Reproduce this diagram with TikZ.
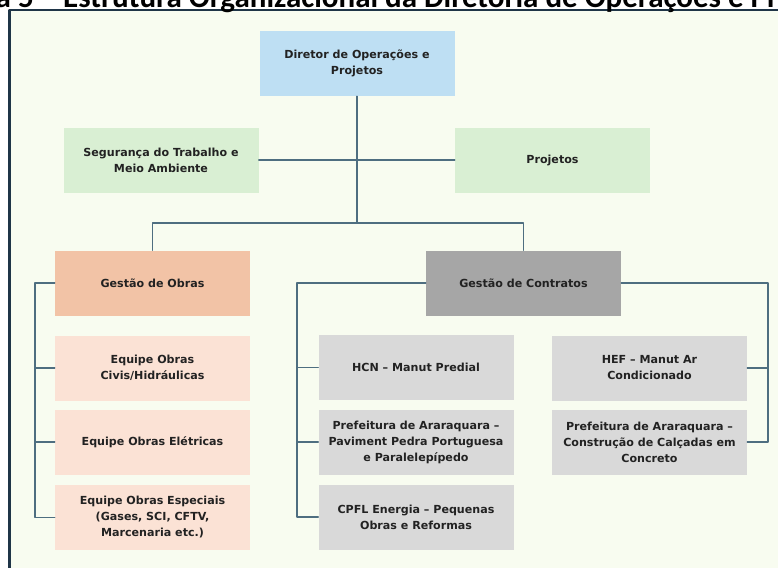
\documentclass[tikz,border=0pt]{standalone}
\usepackage{fontspec}
\setmainfont{DejaVu Sans}
\newfontfamily\titulofonte{Carlito}
\definecolor{fundo}{HTML}{F8FCF0}
\definecolor{moldura}{HTML}{1F3547}
\definecolor{linha}{HTML}{4E6E80}
\definecolor{azul}{HTML}{BEDFF3}
\definecolor{verde}{HTML}{D9EFD3}
\definecolor{salmao}{HTML}{F2C3A6}
\definecolor{salmaoclaro}{HTML}{FBE2D5}
\definecolor{cinza}{HTML}{A6A6A6}
\definecolor{cinzaclaro}{HTML}{D9D9D9}
\definecolor{texto}{HTML}{222222}

\begin{document}
\begin{tikzpicture}[line cap=round,line join=round,x=1pt,y=-1pt,
  caixa/.style={minimum width=195pt,minimum height=65pt,inner sep=2pt,align=center,text=texto,font=\fontsize{11.1}{16}\selectfont\bfseries},
  liga/.style={draw=linha,line width=1.2pt}]
			\useasboundingbox (0,0) rectangle (778,567);
			\clip (0,0) rectangle (778,567);
			\draw [fill=fundo,draw=moldura,line width=2.5pt] (9.5,10.)-- (800.,10.)-- (800.,600.)-- (9.5,600.)-- cycle;
			\node[anchor=base west,inner sep=0pt,font=\titulofonte\fontsize{31}{31}\selectfont\bfseries] (titulo) at (-68.,7.5) {Figura 5 – Estrutura Organizacional da Diretoria de Operações e Projetos};
			\node[caixa,fill=azul] (diretor) at (357.,63.5) {Diretor de Operações e\\Projetos};
			\node[caixa,fill=verde] (seguranca) at (161.,160.) {Segurança do Trabalho e\\Meio Ambiente};
			\node[caixa,fill=verde] (projetos) at (552.5,160.) {Projetos};
			\node[caixa,fill=salmao] (obras) at (152.5,283.) {Gestão de Obras};
			\node[caixa,fill=cinza] (contratos) at (523.5,283.) {Gestão de Contratos};
			\node[caixa,fill=salmaoclaro] (civis) at (152.5,368.) {Equipe Obras\\Civis/Hidráulicas};
			\node[caixa,fill=salmaoclaro] (eletricas) at (152.5,442.) {Equipe Obras Elétricas};
			\node[caixa,fill=salmaoclaro] (especiais) at (152.5,517.5) {Equipe Obras Especiais\\(Gases, SCI, CFTV,\\Marcenaria etc.)};
			\node[caixa,fill=cinzaclaro] (hcn) at (416.,367.5) {HCN – Manut Predial};
			\node[caixa,fill=cinzaclaro] (pavimento) at (416.,442.) {Prefeitura de Araraquara –\\Paviment Pedra Portuguesa\\e Paralelepípedo};
			\node[caixa,fill=cinzaclaro] (cpfl) at (416.,517.) {CPFL Energia – Pequenas\\Obras e Reformas};
			\node[caixa,fill=cinzaclaro] (hef) at (649.5,368.) {HEF – Manut Ar\\Condicionado};
			\node[caixa,fill=cinzaclaro] (calcadas) at (649.5,442.) {Prefeitura de Araraquara –\\Construção de Calçadas em\\Concreto};
			\coordinate (barra) at (357.,223.);
			\coordinate (esqobras) at (35.,283.);
			\coordinate (esqcontratos) at (297.,283.);
			\coordinate (dircontratos) at (768.,283.);
			\draw [liga] (diretor.south)-- (barra);
			\draw [liga] (seguranca.east)-- (projetos.west);
			\draw [liga] (obras.north) |- (barra) -| (contratos.north);
			\draw [liga] (obras.west)-- (esqobras) |- (especiais.west);
			\draw [liga] (civis.west)-- (civis.west -| esqobras);
			\draw [liga] (eletricas.west)-- (eletricas.west -| esqobras);
			\draw [liga] (contratos.west)-- (esqcontratos) |- (cpfl.west);
			\draw [liga] (hcn.west)-- (hcn.west -| esqcontratos);
			\draw [liga] (pavimento.west)-- (pavimento.west -| esqcontratos);
			\draw [liga] (contratos.east)-- (dircontratos) |- (calcadas.east);
			\draw [liga] (hef.east)-- (hef.east -| dircontratos);
		\end{tikzpicture}
\end{document}
